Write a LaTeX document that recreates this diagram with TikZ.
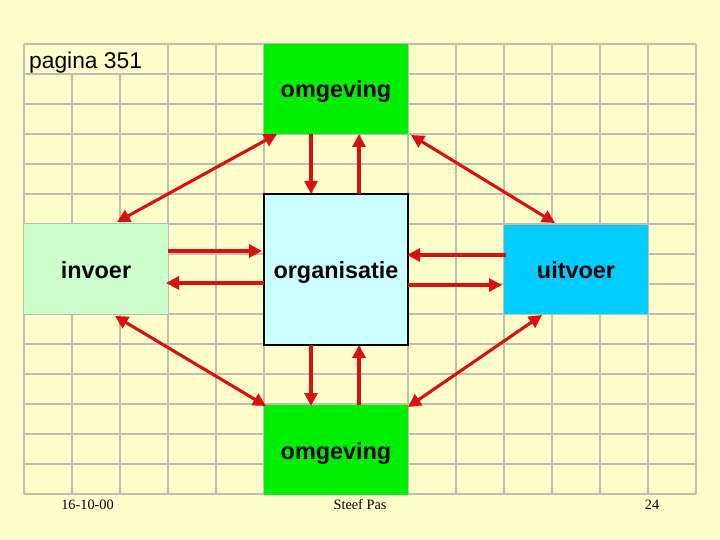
\documentclass[tikz,border=0pt]{standalone}
\usepackage{fontspec}
\setmainfont{Liberation Sans}
\newfontfamily\footfont{Liberation Serif}
\usetikzlibrary{arrows.meta}
\definecolor{bgyel}{RGB}{255,255,204}
\definecolor{gridc}{RGB}{192,190,176}
\definecolor{envgreen}{RGB}{0,238,0}
\definecolor{orgcyan}{RGB}{204,255,255}
\definecolor{inpgreen}{RGB}{204,255,204}
\definecolor{outcyan}{RGB}{0,204,255}
\definecolor{arrred}{RGB}{218,16,16}
\tikzset{
  box/.style={inner sep=0pt, outer sep=0pt, minimum width=144pt,
    text height=18pt, text depth=0pt,
    font=\fontsize{23.4}{28}\selectfont\bfseries},
  gridline/.style={draw=gridc, line width=1.1pt},
  arr/.style={draw=arrred, line width=3.1pt,
    arrows={-Triangle[length=13pt,width=13pt]}},
  darr/.style={draw=arrred, line width=3.1pt,
    arrows={Triangle[length=13pt,width=13pt]-Triangle[length=13pt,width=13pt]}},
  foot/.style={inner sep=0pt, anchor=base, font=\footfont\fontsize{14.3}{16}\selectfont}
}
\begin{document}
\begin{tikzpicture}[x=1pt,y=-1pt]
\useasboundingbox (0,0) rectangle (720,540);
\fill[bgyel] (0,0) rectangle (720,540);
% grid
\foreach \gx in {24,72,...,696} {\draw[gridline] (\gx,44) -- (\gx,494);}
\foreach \gy in {44,74,...,494} {\draw[gridline] (24,\gy) -- (696,\gy);}
% title label
\fill[bgyel] (24.6,44.6) rectangle (167.4,73.4);
\node[inner sep=0pt, anchor=base west, font=\fontsize{22.8}{27}\selectfont] (title) at (29,69) {pagina 351};
% boxes
\node[box, fill=envgreen, minimum height=90pt] (omtop) at (336,89) {omgeving};
\node[box, fill=orgcyan, draw=black, line width=1.4pt, minimum height=151pt] (org) at (336,269.5) {organisatie};
\node[box, fill=inpgreen, minimum height=90pt] (invoer) at (96,269) {invoer};
\node[box, fill=outcyan, minimum height=89pt] (uitvoer) at (576,269.5) {uitvoer};
\node[box, fill=envgreen, minimum height=90pt] (ombot) at (336,450) {omgeving};
% vertical arrows
\draw[arr] ([xshift=47pt]omtop.south west) -- ([xshift=47pt]org.north west);
\draw[arr] ([xshift=95pt]org.north west) -- ([xshift=95pt]omtop.south west);
\draw[arr] ([xshift=47pt]org.south west) -- ([xshift=47pt,yshift=-1pt]ombot.north west);
\draw[arr] ([xshift=95pt]ombot.north west) -- ([xshift=95pt]org.south west);
% horizontal arrows
\draw[arr] ([yshift=-27pt]invoer.north east) -- ([xshift=-2pt,yshift=-57pt]org.north west);
\draw[arr] ([yshift=-89pt]org.north west) -- ([xshift=-2pt,yshift=-59pt]invoer.north east);
\draw[arr] ([xshift=2pt,yshift=-30pt]uitvoer.north west) -- ([xshift=-1pt,yshift=-61pt]org.north east);
\draw[arr] ([yshift=-91pt]org.north east) -- ([xshift=-2pt,yshift=-60pt]uitvoer.north west);
% diagonal arrows
\draw[darr] ([xshift=93pt,yshift=2pt]invoer.north west) -- ([xshift=13pt]omtop.south west);
\draw[darr] ([xshift=3pt,yshift=-1pt]omtop.south east) -- ([xshift=51pt,yshift=2pt]uitvoer.north west);
\draw[darr] ([xshift=91pt,yshift=-2pt]invoer.south west) -- ([xshift=2pt,yshift=-1pt]ombot.north west);
\draw[darr] ([xshift=38pt,yshift=-1pt]uitvoer.south west) -- ([yshift=-2pt]ombot.north east);
% footer
\node[foot] (date) at (87.5,509.5) {16-10-00};
\node[foot] (author) at (360,509.5) {Steef Pas};
\node[foot] (page) at (652,509.5) {24};
\end{tikzpicture}
\end{document}
